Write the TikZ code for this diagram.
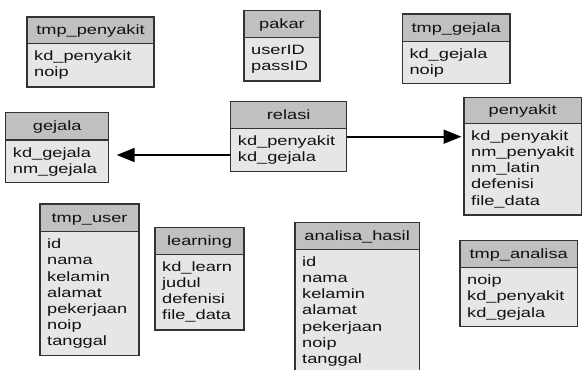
\documentclass[tikz,border=0pt]{standalone}
\usepackage{fontspec}
\setmainfont{Liberation Sans}[FakeStretch=1.35]
\usetikzlibrary{arrows.meta}

\definecolor{hdrgray}{HTML}{C0C0C0}
\definecolor{bodygray}{HTML}{E6E6E6}
\definecolor{edgegray}{HTML}{333333}
\definecolor{inkgray}{HTML}{111111}

\tikzset{
  tablebox/.style={draw=none, fill=bodygray, inner sep=0pt, outer sep=0pt},
  tableedge/.style={draw=edgegray, line width=1.4pt},
  tabletitle/.style={inner sep=0pt, anchor=base, text=inkgray,
    font=\fontsize{13.5}{16}\selectfont},
  tablerow/.style={inner sep=0pt, anchor=base west, text=inkgray,
    font=\fontsize{13.5}{16}\selectfont},
  relarrow/.style={draw=black, line width=1.8pt,
    -{Triangle[length=18pt,width=14pt]}}
}

% \erbox{name}{x1}{y1}{x2}{y2}{header bottom}{title}{comma separated rows}
\newcommand\erbox[8]{%
  \node[tablebox, minimum width={(#4-#2)*1pt}, minimum height={(#5-#3)*1pt},
        anchor=north west] (#1) at (#2,#3) {};
  \fill[hdrgray] (#1.north west) rectangle (#1.east |- 0,#6);
  \draw[tableedge] (#1.north west) rectangle (#1.south east);
  \draw[tableedge] (#1.west |- 0,#6) -- (#1.east |- 0,#6);
  \node[tabletitle] (#1-title) at ({(#2+#4)/2},{#6-9.3}) {#7};
  \foreach \rowtext [count=\k from 0] in {#8}
    \node[tablerow] (#1-row\k) at ({#2+7},{#6+17+16.2*\k}) {\rowtext};
}

\begin{document}
\begin{tikzpicture}[x=1pt, y=-1pt]
  \useasboundingbox (0,0) rectangle (582,370);

  \erbox{tmppenyakit}{27}{17}{154}{87}{43.3}{tmp\_penyakit}{kd\_penyakit,noip}
  \erbox{pakar}{244}{10.7}{320}{81}{37.7}{pakar}{userID,passID}
  \erbox{tmpgejala}{402.3}{14}{510}{83.3}{41.7}{tmp\_gejala}{kd\_gejala,noip}
  \erbox{gejala}{5.7}{112.7}{108.7}{182.7}{140}{gejala}{kd\_gejala,nm\_gejala}
  \erbox{relasi}{230.7}{101.7}{346.7}{171.7}{128.3}{relasi}{kd\_penyakit,kd\_gejala}
  \erbox{penyakit}{464}{97.3}{581.3}{215}{123.3}{penyakit}%
    {kd\_penyakit,nm\_penyakit,nm\_latin,defenisi,file\_data}
  \erbox{tmpuser}{40}{204}{139}{355.7}{231.7}{tmp\_user}%
    {id,nama,kelamin,alamat,pekerjaan,noip,tanggal}
  \erbox{learning}{155}{227.3}{244}{330}{254.3}{learning}%
    {kd\_learn,judul,defenisi,file\_data}
  \erbox{analisahasil}{295}{222.3}{419.3}{380}{249.3}{analisa\_hasil}%
    {id,nama,kelamin,alamat,pekerjaan,noip,tanggal}
  \erbox{tmpanalisa}{460}{240.7}{577.3}{326.7}{267.7}{tmp\_analisa}%
    {noip,kd\_penyakit,kd\_gejala}

  % relations from relasi to its two parent tables
  \draw[relarrow] (relasi.west |- 0,155) -- ([xshift=8pt]gejala.east |- 0,155);
  \draw[relarrow] (relasi.east |- 0,136.7) -- ([xshift=-2.5pt]penyakit.west |- 0,136.7);
\end{tikzpicture}
\end{document}
